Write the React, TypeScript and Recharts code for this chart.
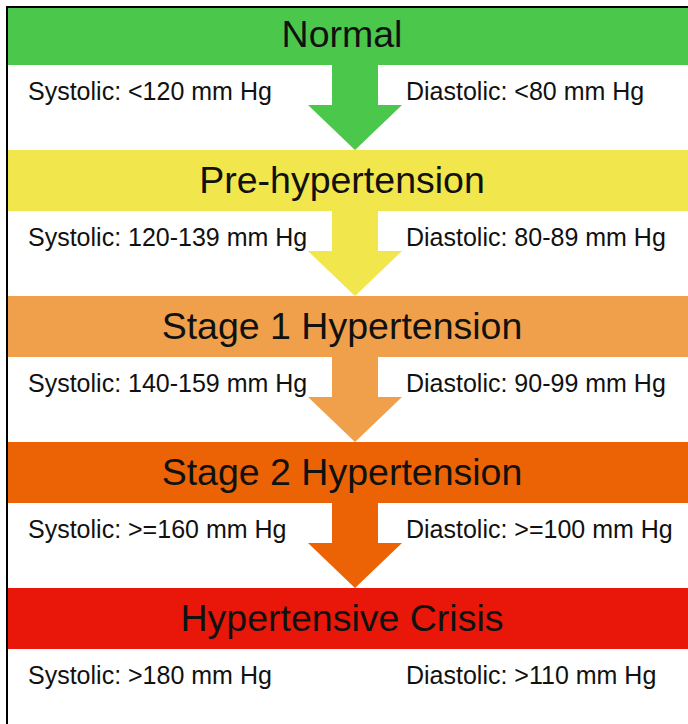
import { Bar, BarChart, XAxis, YAxis } from 'recharts'

const STAGES = ['Normal', 'Pre-hypertension', 'Stage 1 Hypertension', 'Stage 2 Hypertension', 'Hypertensive Crisis']
const SYSTOLIC = ['<120', '120-139', '140-159', '>=160', '>180']
const DIASTOLIC = ['<80', '80-89', '90-99', '>=100', '>110']
const COLORS = ['#4bc74b', '#f1e64b', '#f0a04b', '#ec6306', '#e8170a']

const data = STAGES.map((name, i) => ({
  name,
  value: 1,
  systolic: `Systolic: ${SYSTOLIC[i]} mm Hg`,
  diastolic: `Diastolic: ${DIASTOLIC[i]} mm Hg`,
}))

const FONT = '"Liberation Sans", Arial, sans-serif'

function StageBand(props: any) {
  const { x, y, width, height, index, payload } = props
  const color = COLORS[index % COLORS.length]
  const bottom = y + height
  const cx = x + width / 2 + 7
  const last = index === STAGES.length - 1
  return (
    <g>
      <rect x={x} y={y} width={width} height={height} fill={color} />
      {!last && (
        <path
          d={`M${cx - 23},${bottom} L${cx + 23},${bottom} L${cx + 23},${bottom + 40} L${cx + 47},${bottom + 40} L${cx},${bottom + 85} L${cx - 47},${bottom + 40} L${cx - 23},${bottom + 40} Z`}
          fill={color}
        />
      )}
      <text x={x + width / 2 - 6} y={y + height / 2 - 1} textAnchor="middle" dominantBaseline="central" fontSize={37.5} fill="#111" fontFamily={FONT}>
        {payload.name}
      </text>
      <text x={x + 20} y={bottom + 25.5} dominantBaseline="central" fontSize={25} fill="#111" fontFamily={FONT}>
        {payload.systolic}
      </text>
      <text x={x + 398} y={bottom + 25.5} dominantBaseline="central" fontSize={25} fill="#111" fontFamily={FONT}>
        {payload.diastolic}
      </text>
    </g>
  )
}

export default function App() {
  return (
    <div style={{ position: 'absolute', left: 0, top: 0, width: 688, height: 724, overflow: 'hidden', background: '#fff' }}>
      <div
        style={{
          position: 'absolute',
          left: 6,
          top: 6,
          right: 0,
          bottom: 0,
          borderLeft: '2px solid #000',
          borderTop: '2px solid #000',
          overflow: 'hidden',
        }}
      >
        <div style={{ marginTop: -47 }}>
          <BarChart layout="vertical" width={680} height={764} data={data} margin={{ top: 0, right: 0, bottom: 34, left: 0 }} barSize={61}>
            <XAxis type="number" domain={[0, 1]} hide />
            <YAxis type="category" dataKey="name" hide />
            <Bar dataKey="value" shape={StageBand} isAnimationActive={false} />
          </BarChart>
        </div>
      </div>
    </div>
  )
}
